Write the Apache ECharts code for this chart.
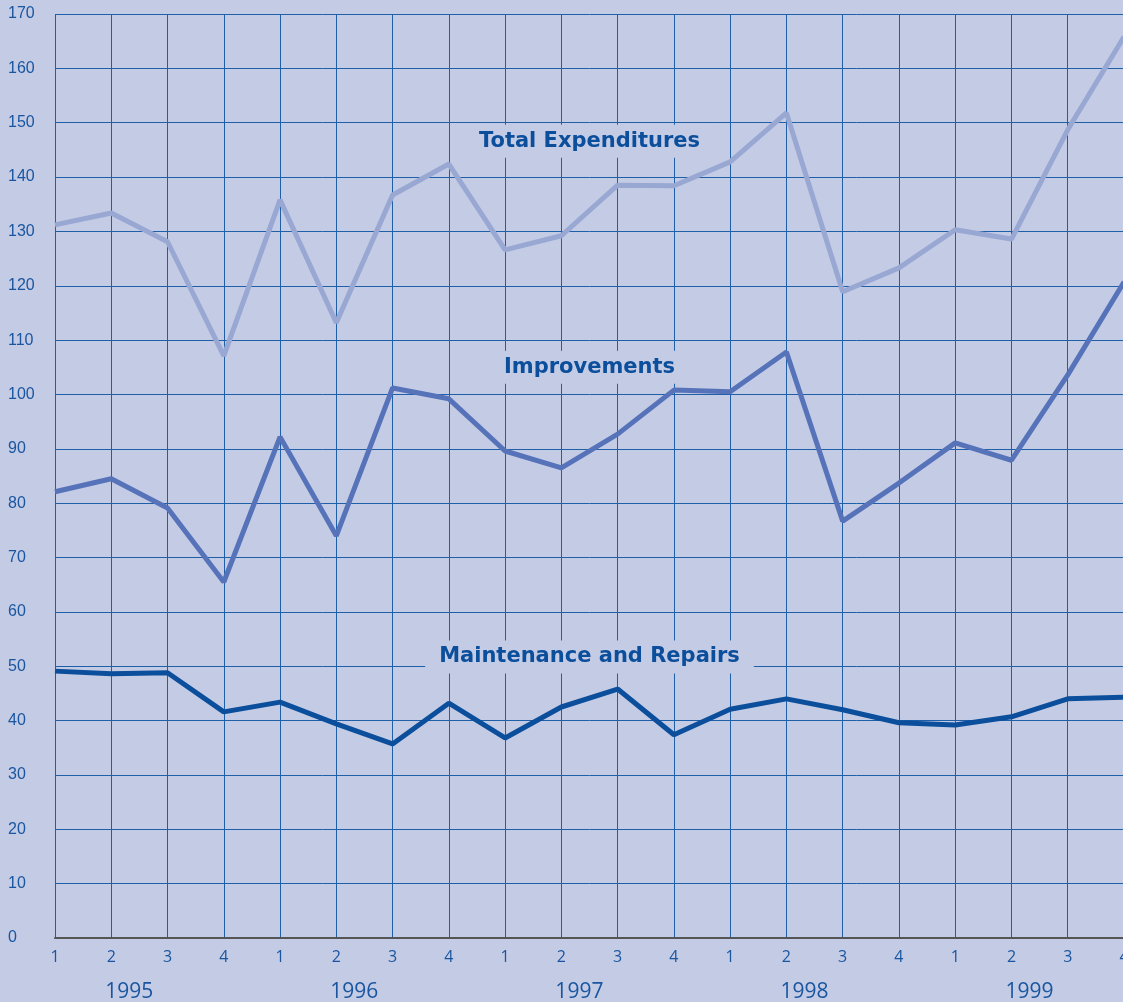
<!DOCTYPE html>
<html>
<head>
<meta charset="utf-8">
<script src="https://cdn.jsdelivr.net/npm/echarts@6/dist/echarts.min.js"></script>
<style>
  html, body { margin: 0; padding: 0; background: #c4cbe5; }
  #main { width: 1123px; height: 1002px; }
</style>
</head>
<body>
<div id="main"></div>
<script>
var quarters = ['1','2','3','4','1','2','3','4','1','2','3','4','1','2','3','4','1','2','3','4'];
var years = ['', '1995', '', '', '', '1996', '', '', '', '1997', '', '', '', '1998', '', '', '', '1999', '', ''];

var totalExp = [131.2, 133.4, 128.1, 107.1, 135.8, 113.2, 136.7, 142.4, 126.6, 129.2,
                138.5, 138.4, 142.8, 151.8, 118.9, 123.3, 130.3, 128.6, 148.7, 165.8];
var improvements = [82.1, 84.5, 79.1, 65.5, 92.2, 74.0, 101.2, 99.2, 89.6, 86.5,
                    92.7, 100.8, 100.5, 107.8, 76.7, 83.7, 91.1, 87.9, 103.6, 120.7];
var maintenance = [49.1, 48.6, 48.8, 41.6, 43.4, 39.4, 35.7, 43.2, 36.8, 42.5,
                   45.8, 37.4, 42.1, 44.0, 42.0, 39.6, 39.2, 40.7, 44.0, 44.3];

// series name labels: name, value on y axis where the label sits
var labelNames = ['Total Expenditures', 'Improvements', 'Maintenance and Repairs'];
var labelValues = [146.6, 105, 51.7];

var chart = echarts.init(document.getElementById('main'));
var blue = '#1f5fa8';
var textBlue = '#1a56a0';

var option = {
  backgroundColor: '#c4cbe5',
  animation: false,
  grid: { left: 55, top: 14, width: 1069, height: 924, outerBoundsMode: 'none', containLabel: false },
  xAxis: [
    {
      type: 'category',
      data: quarters,
      boundaryGap: false,
      axisLine: { lineStyle: { color: '#555', width: 2 } },
      axisTick: { show: false },
      splitLine: { show: true, lineStyle: { color: blue, width: 1 } },
      axisLabel: {
        interval: 0, margin: 11, color: textBlue, fontSize: 16,
        fontFamily: 'Open Sans'
      }
    },
    {
      type: 'category',
      data: years,
      boundaryGap: false,
      position: 'bottom',
      axisLine: { show: false },
      axisTick: { show: false },
      splitLine: { show: false },
      axisLabel: {
        interval: 0, margin: 44, color: textBlue, fontSize: 21,
        fontFamily: 'Open Sans', align: 'left', padding: [0, 0, 0, -6]
      }
    }
  ],
  yAxis: {
    type: 'value',
    min: 0, max: 170, interval: 10,
    axisLine: { show: false },
    axisTick: { show: false },
    splitLine: { lineStyle: { color: blue, width: 1 } },
    axisLabel: {
      color: textBlue, fontSize: 16, fontFamily: 'Liberation Sans',
      align: 'left', margin: 47, padding: [0, 0, 6, 0]
    }
  },
  series: [
    {
      name: 'Total Expenditures', type: 'line', data: totalExp,
      symbol: 'none', lineStyle: { color: '#99a7d3', width: 5 }, z: 3
    },
    {
      name: 'Improvements', type: 'line', data: improvements,
      symbol: 'none', lineStyle: { color: '#5673ba', width: 5 }, z: 4
    },
    {
      name: 'Maintenance and Repairs', type: 'line', data: maintenance,
      symbol: 'none', lineStyle: { color: '#0b4e9b', width: 5 }, z: 5
    }
  ]
};
chart.setOption(option);

// place the series name boxes between 1997 Q1 and Q2
var xa = chart.convertToPixel({ xAxisIndex: 0 }, 9);
var xb = chart.convertToPixel({ xAxisIndex: 0 }, 10);
var cx = (xa + xb) / 2;
var graphics = labelNames.map(function (name, i) {
  var cy = chart.convertToPixel({ yAxisIndex: 0 }, labelValues[i]);
  return {
    type: 'text',
    x: cx, y: cy, z: 100,
    style: {
      text: name,
      align: 'center', verticalAlign: 'middle',
      font: 'bold 21px "DejaVu Sans"',
      fill: '#0b4e9b',
      backgroundColor: '#c4cbe5',
      padding: [6, 14, 6, 14]
    }
  };
});
chart.setOption({ graphic: graphics });
</script>
</body>
</html>
